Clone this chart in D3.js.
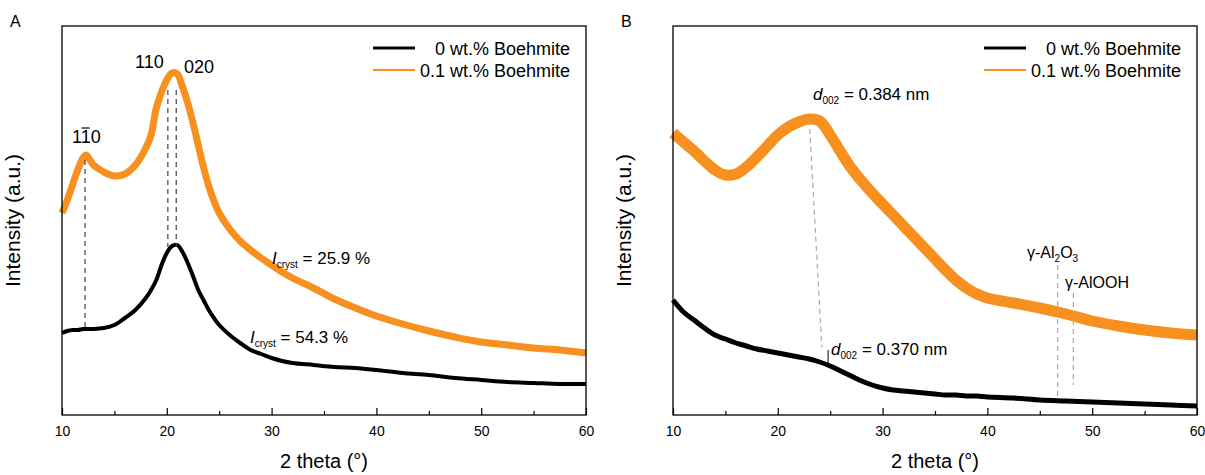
<!DOCTYPE html>
<html>
<head>
<meta charset="utf-8">
<script src="https://cdn.jsdelivr.net/npm/d3@7"></script>
<style>
  body { margin: 0; background: #fff; }
  svg { font-family: "Liberation Sans", Arial, sans-serif; }
</style>
</head>
<body>
<div id="chart"></div>
<script>
// panel A: 2 theta and intensity (a.u.)
const aAngles = [10, 10.5, 11, 11.5, 12, 12.3, 13, 14, 15, 16, 17, 18, 18.5, 19, 19.5, 20, 20.5, 21, 21.5, 22, 22.5,
  23, 23.5, 24, 24.5, 25, 26, 27, 28, 29, 30, 31, 32, 34, 36, 38, 40, 42.5, 45, 47.5, 50, 52.5, 55, 57.5, 60];
const aNeat = [82, 84, 85, 85, 86, 86, 86, 87, 90, 97, 105, 117, 125, 135, 150, 162, 169, 170, 163, 152, 139,
  125, 115, 105, 97, 90, 80, 72, 65, 61, 57, 54, 52, 50, 48, 47, 45, 42, 40, 37, 35, 33, 32, 31, 31];
const aBoehmite = [202, 215, 230, 245, 257, 260, 250, 243, 239, 241, 250, 267, 280, 307, 323, 335, 342, 341, 328, 312, 292,
  270, 248, 229, 214, 202, 186, 174, 165, 157, 150, 143, 137, 127, 116, 107, 99, 91, 84, 78, 73, 70, 67, 65, 62];

// panel B
const bAngles = [10, 11, 12, 13, 14, 15, 16, 17, 18, 19, 20, 21, 22, 23, 24, 25, 26, 27, 28, 29, 30,
  31, 32, 33, 34, 35, 36, 37, 38, 39, 40, 42.5, 45, 47.5, 50, 52.5, 55, 57.5, 60];
const bNeat = [115, 103, 95, 87, 80, 76, 72, 69, 66, 64, 62, 60, 58, 56, 53, 49, 44, 39, 34, 30, 27,
  25, 24, 23, 22, 21, 20, 20, 19, 19, 18, 17, 15, 14, 13, 12, 11, 10, 9];
const bBoehmite = [282, 273, 264, 254, 245, 240, 241, 248, 258, 269, 280, 288, 293, 296, 294, 280, 263, 247, 234, 222, 211,
  200, 189, 178, 167, 156, 145, 135, 127, 121, 117, 112, 107, 101, 94, 89, 85, 82, 80];

const xTicks = [10, 20, 30, 40, 50, 60];
const xMinorTicks = [15, 25, 35, 45, 55];
const seriesNames = ['0 wt.% Boehmite', '0.1 wt.% Boehmite'];
const seriesColors = ['#000000', '#f7901e'];

// dashed peak markers [angle top, intensity top, angle bottom, intensity bottom]
const aMarkers = [[12.2, 255, 12.2, 87], [20.1, 325, 20.1, 168], [20.9, 325, 20.9, 168]];
const bMarkers = [[23.0, 295, 24.2, 68], [46.7, 150, 46.7, 17], [48.2, 122, 48.2, 30]];

const width = 1205;
const height = 475;
const plotTop = 26;
const plotBottom = 415;

const svg = d3.select('#chart')
  .append('svg')
  .attr('width', width)
  .attr('height', height);

function drawPanel(p) {
  const x = d3.scaleLinear().domain([10, 60]).range([p.left, p.right]);
  const y = d3.scaleLinear().domain([0, 389]).range([plotBottom, plotTop]);
  const g = svg.append('g');

  const line = d3.line()
    .x(d => x(d[0]))
    .y(d => y(d[1]))
    .curve(d3.curveCatmullRom.alpha(0.5));

  g.append('path')
    .datum(p.angles.map((a, i) => [a, p.neat[i]]))
    .attr('d', line)
    .attr('fill', 'none')
    .attr('stroke', seriesColors[0])
    .attr('stroke-width', p.neatWidth)
    .attr('stroke-linejoin', 'round');

  g.append('path')
    .datum(p.angles.map((a, i) => [a, p.boehmite[i]]))
    .attr('d', line)
    .attr('fill', 'none')
    .attr('stroke', seriesColors[1])
    .attr('stroke-width', p.boehmiteWidth)
    .attr('stroke-linejoin', 'round');

  g.selectAll('.marker')
    .data(p.markers)
    .enter()
    .append('line')
    .attr('x1', d => x(d[0]))
    .attr('y1', d => y(d[1]))
    .attr('x2', d => x(d[2]))
    .attr('y2', d => y(d[3]))
    .attr('stroke', p.markerColor)
    .attr('stroke-width', 1.2)
    .attr('stroke-dasharray', '5,4');

  // frame
  g.append('rect')
    .attr('x', p.left)
    .attr('y', plotTop)
    .attr('width', p.right - p.left)
    .attr('height', plotBottom - plotTop)
    .attr('fill', 'none')
    .attr('stroke', '#000')
    .attr('stroke-width', 1.3);

  const axis = g.append('g')
    .attr('transform', `translate(0,${plotBottom})`)
    .call(d3.axisBottom(x).tickValues(xTicks).tickSizeInner(-7).tickSizeOuter(0).tickPadding(11));
  axis.select('.domain').remove();
  axis.attr('font-size', 14).attr('font-family', null);
  axis.selectAll('line').attr('stroke-width', 1.2);

  const minor = g.append('g')
    .attr('transform', `translate(0,${plotBottom})`)
    .call(d3.axisBottom(x).tickValues(xMinorTicks).tickSizeInner(-4).tickSizeOuter(0).tickFormat(''));
  minor.select('.domain').remove();
  minor.selectAll('line').attr('stroke-width', 1.2);

  g.append('text')
    .attr('x', (p.left + p.right) / 2)
    .attr('y', 468)
    .attr('text-anchor', 'middle')
    .attr('font-size', 20)
    .text('2 theta (°)');

  g.append('text')
    .attr('transform', `translate(${p.left - 42},${(plotTop + plotBottom) / 2}) rotate(-90)`)
    .attr('text-anchor', 'middle')
    .attr('font-size', 21)
    .text('Intensity (a.u.)');

  g.append('text')
    .attr('x', p.left - 52)
    .attr('y', 27)
    .attr('font-size', 16)
    .text(p.label);

  // legend
  const legend = g.append('g');
  seriesNames.forEach((name, i) => {
    const ly = 48 + i * 22;
    legend.append('line')
      .attr('x1', p.right - 213).attr('x2', p.right - 171)
      .attr('y1', ly).attr('y2', ly)
      .attr('stroke', seriesColors[i])
      .attr('stroke-width', i === 0 ? 3 : 2);
    legend.append('text')
      .attr('x', p.right - 16)
      .attr('y', ly + 7)
      .attr('text-anchor', 'end')
      .attr('font-size', 18)
      .text(name);
  });

  return {x, y, g};
}

function subLabel(g, xPos, yPos, main, sub, rest, italic) {
  const t = g.append('text').attr('x', xPos).attr('y', yPos).attr('font-size', 17);
  t.append('tspan').attr('font-style', italic ? 'italic' : null).text(main);
  t.append('tspan').attr('font-size', 10).attr('dy', 4).text(sub);
  t.append('tspan').attr('dy', -4).text(rest);
  return t;
}

const A = drawPanel({
  left: 62, right: 586, label: 'A',
  angles: aAngles, neat: aNeat, boehmite: aBoehmite,
  neatWidth: 4, boehmiteWidth: 7,
  markers: aMarkers, markerColor: '#444'
});

A.g.append('text').attr('x', 135).attr('y', 68).attr('font-size', 18).text('110');
A.g.append('text').attr('x', 184).attr('y', 73).attr('font-size', 18).text('020');
const hkl = A.g.append('text').attr('x', 72).attr('y', 143).attr('font-size', 18).text('110');
{
  const node = hkl.node();
  const s = node.getStartPositionOfChar(1).x;
  const w = node.getSubStringLength(1, 1);
  A.g.append('line')
    .attr('x1', s + 1).attr('x2', s + w - 1)
    .attr('y1', 143 - 15).attr('y2', 143 - 15)
    .attr('stroke', '#000').attr('stroke-width', 1.2);
}
subLabel(A.g, 272, 264, 'I', 'cryst', ' = 25.9 %', true);
subLabel(A.g, 250, 343, 'I', 'cryst', ' = 54.3 %', true);

const B = drawPanel({
  left: 673, right: 1197, label: 'B',
  angles: bAngles, neat: bNeat, boehmite: bBoehmite,
  neatWidth: 5, boehmiteWidth: 11,
  markers: bMarkers, markerColor: '#aaa'
});

subLabel(B.g, 813, 100, 'd', '002', ' = 0.384 nm', true);
subLabel(B.g, 831, 355, 'd', '002', ' = 0.370 nm', true);
B.g.append('line')
  .attr('x1', B.x(24.8)).attr('x2', B.x(24.8))
  .attr('y1', B.y(65)).attr('y2', B.y(50))
  .attr('stroke', '#000').attr('stroke-width', 1);

{
  const t = B.g.append('text').attr('x', 1027).attr('y', 258).attr('font-size', 16);
  t.append('tspan').text('γ-Al');
  t.append('tspan').attr('font-size', 10).attr('dy', 4).text('2');
  t.append('tspan').attr('dy', -4).text('O');
  t.append('tspan').attr('font-size', 10).attr('dy', 4).text('3');
  B.g.append('text').attr('x', 1065).attr('y', 288).attr('font-size', 16).text('γ-AlOOH');
}
</script>
</body>
</html>
